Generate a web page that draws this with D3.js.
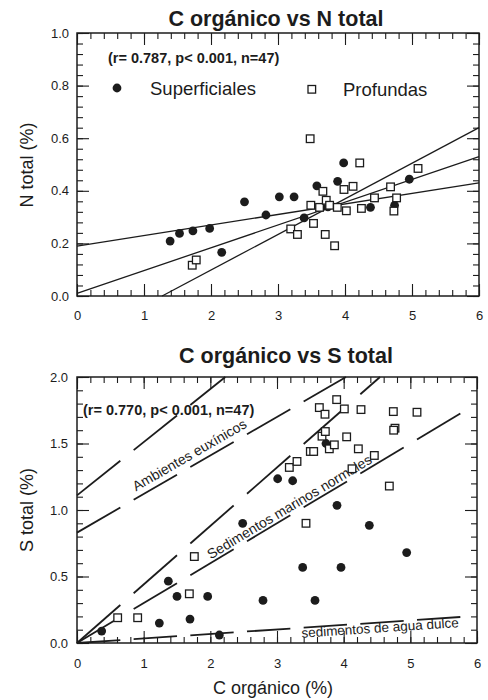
<!DOCTYPE html>
<html><head><meta charset="utf-8">
<script src="https://cdn.jsdelivr.net/npm/d3@7"></script>
<style>body{margin:0;background:#fff}</style>
</head><body>
<svg id="c" width="488" height="700"></svg>
<script>
// ---------- tick labels ----------
const xTickValues = [0, 1, 2, 3, 4, 5, 6];
const nTickValues = [0, 0.2, 0.4, 0.6, 0.8, 1.0];
const sTickValues = [0, 0.5, 1.0, 1.5, 2.0];

// ---------- top chart: C orgánico vs N total ----------
const nSupC = [1.39,1.53,1.73,1.98,2.16,2.50,2.82,3.02,3.24,3.39,3.58,3.745,3.89,3.98,4.38,4.74,4.96];
const nSupN = [0.209,0.238,0.248,0.257,0.166,0.358,0.308,0.377,0.377,0.297,0.419,0.339,0.436,0.506,0.337,0.345,0.444];
const nProC = [1.72,1.78,3.19,3.29,3.48,3.49,3.53,3.62,3.67,3.705,3.72,3.77,3.845,3.885,3.985,4.02,4.12,4.22,4.245,4.44,4.68,4.73,4.77,5.09];
const nProN = [0.117,0.137,0.255,0.234,0.598,0.345,0.276,0.337,0.398,0.234,0.364,0.345,0.191,0.337,0.405,0.324,0.417,0.506,0.333,0.373,0.415,0.323,0.373,0.485];
// regression lines (start / end in data units)
const nFitX0 = [0, 0, 1.27];
const nFitY0 = [0.19, 0.01, 0];
const nFitX1 = [6, 6, 6];
const nFitY1 = [0.43, 0.53, 0.64];

// ---------- bottom chart: C orgánico vs S total ----------
const sSupC = [0.37,1.235,1.37,1.50,1.695,1.96,2.135,2.485,2.79,3.01,3.235,3.385,3.57,3.735,3.90,3.96,4.385,4.945];
const sSupS = [0.09,0.15,0.465,0.35,0.18,0.35,0.06,0.90,0.32,1.235,1.22,0.568,0.32,1.50,1.035,0.568,0.885,0.68];
const sProC = [0.61,0.91,1.685,1.76,3.185,3.30,3.435,3.50,3.55,3.635,3.675,3.72,3.725,3.785,3.86,3.895,4.01,4.045,4.125,4.22,4.26,4.46,4.685,4.745,4.77,4.75,5.10];
const sProS = [0.19,0.19,0.37,0.65,1.32,1.365,0.90,1.44,1.44,1.77,1.555,1.72,1.59,1.46,1.49,1.83,1.76,1.55,1.31,1.46,1.755,1.41,1.18,1.74,1.615,1.60,1.735];
// reference (C/S) lines: S = b + m*C
const refB = [1.11, 0.83, 0, 0, 0];
const refM = [0.40, 0.29, 0.44, 0.30, 0.034];
const refXEnd = [6, 6, 6, 5.76, 5.80];
const refLabels = ["Ambientes euxínicos", "Sedimentos marinos normales", "sedimentos de agua dulce"];
const refLabelLine = [1, 3, 4];
const refLabelX = [0.93, 2.03, 3.36];

// ---------- drawing ----------
const FONT = "'Liberation Sans', Arial, Helvetica, sans-serif";
const INK = "#1c1c1c";
const svg = d3.select("#c");

const xN = d3.scaleLinear().domain([0, 6]).range([77, 479]);
const yN = d3.scaleLinear().domain([0, 1]).range([296, 33]);
const xS = d3.scaleLinear().domain([0, 6]).range([77, 477]);
const yS = d3.scaleLinear().domain([0, 2]).range([643, 377]);

function styleAxis(sel) {
  sel.select(".domain").remove();
  sel.selectAll("line").attr("stroke", INK).attr("stroke-width", 1.1);
  sel.selectAll("text").attr("font-family", FONT).attr("font-size", 13).attr("fill", INK);
}
const noLabel = () => "";

function addAxes(x, y, xMinor, yMajor, yMinor, yFmt, xPad, yPad) {
  const g = svg.append("g");
  const [xl, xr] = x.range(), [yb, yt] = y.range();
  g.append("g").attr("transform", `translate(0,${yb})`)
    .call(d3.axisBottom(x).tickValues(xMinor).tickSize(-6).tickFormat(noLabel)).call(styleAxis);
  g.append("g").attr("transform", `translate(0,${yb})`)
    .call(d3.axisBottom(x).tickValues(xTickValues).tickSize(-12).tickPadding(xPad).tickFormat(d3.format("d"))).call(styleAxis);
  g.append("g").attr("transform", `translate(0,${yt})`)
    .call(d3.axisTop(x).tickValues(xMinor).tickSize(-6).tickFormat(noLabel)).call(styleAxis);
  g.append("g").attr("transform", `translate(0,${yt})`)
    .call(d3.axisTop(x).tickValues(xTickValues).tickSize(-12).tickFormat(noLabel)).call(styleAxis);
  g.append("g").attr("transform", `translate(${xl},0)`)
    .call(d3.axisLeft(y).tickValues(yMinor).tickSize(-6).tickFormat(noLabel)).call(styleAxis);
  g.append("g").attr("transform", `translate(${xl},0)`)
    .call(d3.axisLeft(y).tickValues(yMajor).tickSize(-12).tickPadding(yPad).tickFormat(yFmt)).call(styleAxis);
  g.append("g").attr("transform", `translate(${xr},0)`)
    .call(d3.axisRight(y).tickValues(yMinor).tickSize(-6).tickFormat(noLabel)).call(styleAxis);
  g.append("g").attr("transform", `translate(${xr},0)`)
    .call(d3.axisRight(y).tickValues(yMajor).tickSize(-12).tickFormat(noLabel)).call(styleAxis);
  g.append("rect").attr("x", xl).attr("y", yt).attr("width", xr - xl).attr("height", yb - yt)
    .attr("fill", "none").attr("stroke", INK).attr("stroke-width", 1.5);
}

function circles(x, y, xs, ys) {
  svg.append("g").selectAll("circle").data(xs).join("circle")
    .attr("cx", d => x(d)).attr("cy", (d, i) => y(ys[i])).attr("r", 4.4).attr("fill", INK);
}
function squares(x, y, xs, ys) {
  const s = 7.6;
  svg.append("g").selectAll("rect").data(xs).join("rect")
    .attr("x", d => x(d) - s / 2).attr("y", (d, i) => y(ys[i]) - s / 2)
    .attr("width", s).attr("height", s)
    .attr("fill", "#fff").attr("stroke", INK).attr("stroke-width", 1.3);
}
function text(str, x, y, size, opts = {}) {
  const t = svg.append("text").attr("x", x).attr("y", y).text(str)
    .attr("font-family", FONT).attr("font-size", size).attr("fill", INK)
    .attr("font-weight", opts.bold ? "bold" : "normal")
    .attr("text-anchor", opts.anchor || "start");
  if (opts.rotate) t.attr("transform", `rotate(${opts.rotate},${x},${y})`);
  return t;
}

// ===== Top chart =====
const xMinorTicks = d3.range(0, 6.001, 0.2);
addAxes(xN, yN, xMinorTicks, nTickValues, d3.range(0, 1.001, 0.04), d3.format(".1f"), 15, 8);
text("C orgánico vs N total", 276, 26, 21.5, {bold: true, anchor: "middle"});
text("N total (%)", 33, 165, 18, {anchor: "middle", rotate: -90});
text("(r= 0.787, p< 0.001, n=47)", 108, 63, 14.5, {bold: true});
// legend
svg.append("circle").attr("cx", 117).attr("cy", 88).attr("r", 4.4).attr("fill", INK);
text("Superficiales", 150, 94.5, 18.5);
svg.append("rect").attr("x", 308).attr("y", 85.5).attr("width", 7.6).attr("height", 7.6)
  .attr("fill", "#fff").attr("stroke", INK).attr("stroke-width", 1.3);
text("Profundas", 343, 96, 18.5);
// regression lines
svg.append("g").selectAll("line").data(nFitX0).join("line")
  .attr("x1", d => xN(d)).attr("y1", (d, i) => yN(nFitY0[i]))
  .attr("x2", (d, i) => xN(nFitX1[i])).attr("y2", (d, i) => yN(nFitY1[i]))
  .attr("stroke", INK).attr("stroke-width", 1.3);
circles(xN, yN, nSupC, nSupN);
squares(xN, yN, nProC, nProN);

// ===== Bottom chart =====
addAxes(xS, yS, xMinorTicks, sTickValues, d3.range(0, 2.001, 0.1), d3.format(".1f"), 16, 9);
text("C orgánico vs S total", 286, 363, 21.5, {bold: true, anchor: "middle"});
text("S total (%)", 33, 510, 18, {anchor: "middle", rotate: -90});
text("C orgánico (%)", 273, 694, 18, {anchor: "middle"});
text("(r= 0.770, p< 0.001, n=47)", 83, 415, 14.5, {bold: true});

// dashed reference lines: dashes laid out along C
const dashPeriod = 0.85, dashLen = 0.65;
const refG = svg.append("g");
refB.forEach((b, i) => {
  const m = refM[i];
  const xEnd = Math.min(refXEnd[i], (2 - b) / m);
  const segs = d3.range(0, xEnd, dashPeriod).map(s => [s, Math.min(s + dashLen, xEnd)]);
  refG.selectAll(null).data(segs).join("line")
    .attr("x1", d => xS(d[0])).attr("y1", d => yS(b + m * d[0]))
    .attr("x2", d => xS(d[1])).attr("y2", d => yS(b + m * d[1]))
    .attr("stroke", INK).attr("stroke-width", 1.8);
});
// labels along lines
const labelOffset = [-6, -3, 10];
refLabels.forEach((lab, k) => {
  const i = refLabelLine[k], b = refB[i], m = refM[i];
  const xa = refLabelX[k];
  const px = xS(xa), py = yS(b + m * xa);
  const ang = Math.atan2(yS(b + m * 1) - yS(b), xS(1) - xS(0)) * 180 / Math.PI;
  svg.append("text").attr("transform", `translate(${px},${py}) rotate(${ang})`)
    .attr("x", 0).attr("y", labelOffset[k]).text(lab)
    .attr("font-family", FONT).attr("font-size", k === 2 ? 13.5 : 14).attr("fill", INK);
});

circles(xS, yS, sSupC, sSupS);
squares(xS, yS, sProC, sProS);
</script>
</body></html>
